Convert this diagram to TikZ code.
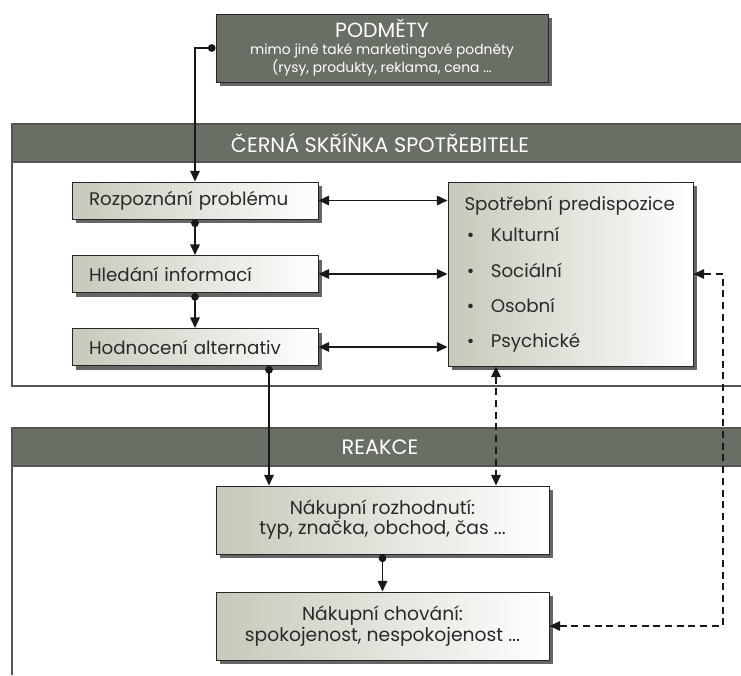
\documentclass[tikz,border=0pt]{standalone}
\usepackage{fontspec}
\setmainfont{Poppins}
\usetikzlibrary{arrows.meta,positioning,shadows,calc}

\definecolor{bandgrey}{HTML}{6A6F66}
\definecolor{boxgrey}{HTML}{C5C9BA}
\definecolor{inkgrey}{HTML}{2A2A2A}
\definecolor{framegrey}{HTML}{555555}

\begin{document}
\begin{tikzpicture}[x=0.03cm, y=-0.03cm,
    box/.style={draw=black!85, line width=0.8pt, left color=boxgrey, right color=white, text=inkgrey, inner sep=0pt,
        drop shadow={shadow xshift=3.5pt, shadow yshift=-3.5pt, fill=black!60, opacity=1}},
    bandtext/.style={text=white, font=\fontsize{17.8}{20}\selectfont},
    conn/.style={line width=1.6pt, draw=black!90, -{Triangle[length=9pt, width=8pt]}},
    dotconn/.style={conn, {Circle[length=6.5pt]}-{Triangle[length=9pt, width=8pt]}},
    dual/.style={conn, {Triangle[length=9pt, width=8pt]}-{Triangle[length=9pt, width=8pt]}},
    dashdual/.style={dual, dash pattern=on 6pt off 4pt}]
    \useasboundingbox (0,0) rectangle (741,675);

    % Bands and frames
    \fill[bandgrey] (12,124) rectangle (741,162);
    \draw[framegrey, line width=1pt] (741,124) -- (12,124) -- (12,386) -- (741,386);
    \draw[framegrey, line width=1pt] (12,162) -- (741,162);
    \fill[bandgrey] (12,428) rectangle (741,466);
    \draw[framegrey, line width=1pt] (741,428) -- (12,428) -- (12,675);
    \draw[framegrey, line width=1pt] (12,466) -- (741,466);
    \node[bandtext] (cerna) at (380,143) {ČERNÁ SKŘÍŇKA SPOTŘEBITELE};
    \node[bandtext] (reakce) at (380,447) {REAKCE};

    % Stimuli
    \node[draw=black!85, line width=0.8pt, fill=bandgrey, text=white, inner sep=0pt, minimum width=332*0.03cm, minimum height=68*0.03cm, align=center,
        drop shadow={shadow xshift=3.5pt, shadow yshift=-3.5pt, fill=black!60, opacity=1}] (podmety) at (382,48)
        {{\fontsize{17.5}{17}\selectfont PODMĚTY}\\[3pt]
         {\fontsize{11.8}{16}\selectfont mimo jiné také marketingové podněty}\\
         {\fontsize{11.8}{16}\selectfont (rysy, produkty, reklama, cena ...}\rule[-4pt]{0pt}{4pt}};

    % Decision steps
    \node[box, minimum width=246*0.03cm, minimum height=37*0.03cm, text width=212*0.03cm, align=left, font=\fontsize{15.6}{18}\selectfont] (rozpoznani) at (195,200.5) {Rozpoznání problému};
    \node[box, minimum width=246*0.03cm, minimum height=37*0.03cm, text width=212*0.03cm, align=left, font=\fontsize{15.6}{18}\selectfont] (hledani) at (195,274) {Hledání informací};
    \node[box, minimum width=246*0.03cm, minimum height=37*0.03cm, text width=212*0.03cm, align=left, font=\fontsize{15.6}{18}\selectfont] (hodnoceni) at (195,347) {Hodnocení alternativ};

    % Predispositions
    \node[box, minimum width=245*0.03cm, minimum height=184*0.03cm, text width=212*0.03cm, align=left, font=\fontsize{15.6}{18}\selectfont] (spotrebni) at (570.5,274)
        {Spotřební predispozice\\[9pt]
         \hspace*{2pt}\textbullet\hspace{14pt}Kulturní\\[12pt]
         \hspace*{2pt}\textbullet\hspace{14pt}Sociální\\[12pt]
         \hspace*{2pt}\textbullet\hspace{14pt}Osobní\\[12pt]
         \hspace*{2pt}\textbullet\hspace{14pt}Psychické};

    % Response
    \node[box, minimum width=333*0.03cm, minimum height=68*0.03cm, align=center, font=\fontsize{16}{16}\selectfont] (rozhodnuti) at (382.5,520) {Nákupní rozhodnutí:\\typ, značka, obchod, čas ...};
    \node[box, minimum width=333*0.03cm, minimum height=68*0.03cm, align=center, font=\fontsize{16}{16}\selectfont] (chovani) at (382.5,626) {Nákupní chování:\\spokojenost, nespokojenost ...};

    % Connectors
    \coordinate (hdot) at (269,0);
    \coordinate (pdash) at (496,0);
    \coordinate (rdash) at (723,0);
    \draw[dotconn] (podmety.west) -| (rozpoznani.north);
    \draw[dotconn] (rozpoznani.south) -- (hledani.north);
    \draw[dotconn] (hledani.south) -- (hodnoceni.north);
    \draw[dual] (rozpoznani.east) -- (rozpoznani.east -| spotrebni.west);
    \draw[dual] (hledani.east) -- (hledani.east -| spotrebni.west);
    \draw[dual] (hodnoceni.east) -- (hodnoceni.east -| spotrebni.west);
    \draw[dotconn] (hodnoceni.south -| hdot) -- (rozhodnuti.north -| hdot);
    \draw[dashdual] (spotrebni.south -| pdash) -- (rozhodnuti.north -| pdash);
    \draw[dotconn] (rozhodnuti.south) -- (chovani.north);
    \draw[dashdual] (chovani.east) -| (rdash |- spotrebni.east) -- (spotrebni.east);
\end{tikzpicture}
\end{document}
